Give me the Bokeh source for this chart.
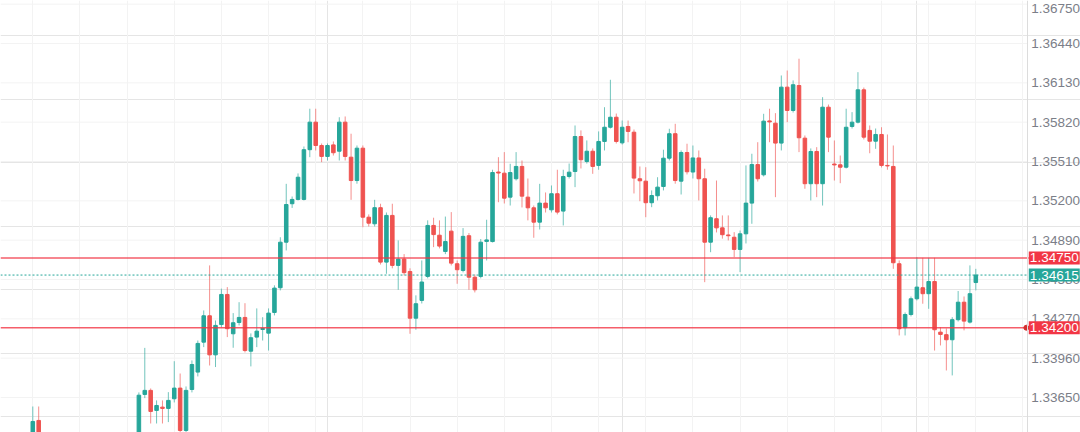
from bokeh.plotting import figure
from bokeh.models import Range1d, FixedTicker, Span, Grid, ColumnDataSource
from bokeh.core.properties import value
from bokeh.embed import file_html
from bokeh.resources import INLINE

# ---- data ----
opens = [1.33312, 1.33469, 1.33272, 1.3322, 1.3318, 1.3325, 1.3320, 1.3312, 1.3305, 1.3310,
         1.3302, 1.3296, 1.3304, 1.3311, 1.3307, 1.3315, 1.3322, 1.3318, 1.33290, 1.33674,
         1.33706, 1.33548, 1.33574, 1.33564, 1.33640, 1.33724, 1.33390, 1.33713, 1.33850, 1.34086,
         1.34294, 1.33986, 1.34225, 1.34462, 1.34152, 1.34241, 1.34281, 1.34015, 1.34126, 1.34186,
         1.34157, 1.34320, 1.34515, 1.34874, 1.35177, 1.35211, 1.35211, 1.35603, 1.35820, 1.35636,
         1.35550, 1.35641, 1.35591, 1.35820, 1.35544, 1.35360, 1.35615, 1.35071, 1.35019, 1.35146,
         1.34717, 1.35085, 1.34691, 1.34741, 1.34643, 1.34275, 1.34415, 1.34604, 1.35006, 1.34929,
         1.34801, 1.34961, 1.34704, 1.34651, 1.34925, 1.34598, 1.34604, 1.34880, 1.34879, 1.35427,
         1.35418, 1.35229, 1.35374, 1.35471, 1.35229, 1.35145, 1.35032, 1.35182, 1.35129, 1.35256,
         1.35119, 1.35392, 1.35431, 1.35707, 1.35510, 1.35591, 1.35479, 1.35668, 1.35780, 1.35859,
         1.35657, 1.35786, 1.35741, 1.35374, 1.35355, 1.35185, 1.35240, 1.35313, 1.35536, 1.35729,
         1.35355, 1.35581, 1.35427, 1.35538, 1.35374, 1.34874, 1.35059, 1.34987, 1.34931, 1.34913,
         1.34817, 1.34940, 1.35182, 1.35486, 1.35405, 1.35830, 1.35812, 1.35655, 1.36096, 1.35912,
         1.36109, 1.35694, 1.35335, 1.35589, 1.35335, 1.35938, 1.35490, 1.35484, 1.35465, 1.35786,
         1.35820, 1.36075, 1.35755, 1.35670, 1.35723, 1.35479, 1.35471, 1.34704, 1.34200, 1.34304,
         1.34428, 1.34515, 1.34468, 1.34564, 1.34165, 1.34145, 1.34105, 1.34263, 1.34401, 1.34244,
         1.34556]
highs = [1.33579, 1.33579, 1.3331, 1.3327, 1.3329, 1.3330, 1.3323, 1.3316, 1.3315, 1.3313,
         1.3306, 1.3308, 1.3315, 1.3314, 1.3319, 1.3326, 1.3325, 1.3331, 1.33690, 1.34041,
         1.33721, 1.33627, 1.33627, 1.33692, 1.33936, 1.33839, 1.33737, 1.33942, 1.34099, 1.34336,
         1.34691, 1.34257, 1.34508, 1.34520, 1.34315, 1.34401, 1.34393, 1.34155, 1.34352, 1.34283,
         1.34352, 1.34534, 1.34913, 1.35334, 1.35234, 1.35416, 1.35628, 1.35926, 1.35926, 1.35652,
         1.35652, 1.35668, 1.35859, 1.35865, 1.35729, 1.35636, 1.35636, 1.35093, 1.35208, 1.35177,
         1.35108, 1.35177, 1.34888, 1.34780, 1.34668, 1.34455, 1.34730, 1.35046, 1.35067, 1.35046,
         1.35076, 1.35111, 1.34730, 1.34985, 1.34946, 1.34620, 1.34899, 1.35051, 1.35445, 1.35544,
         1.35584, 1.35492, 1.35584, 1.35518, 1.35376, 1.35163, 1.35334, 1.35266, 1.35321, 1.35445,
         1.35445, 1.35494, 1.35794, 1.35755, 1.35676, 1.35613, 1.35747, 1.35938, 1.36154, 1.35888,
         1.35833, 1.35833, 1.35762, 1.35471, 1.35465, 1.35282, 1.35386, 1.35603, 1.35768, 1.35807,
         1.35597, 1.35650, 1.35636, 1.35597, 1.35453, 1.35085, 1.35360, 1.35085, 1.35085, 1.34953,
         1.34966, 1.35479, 1.35571, 1.35662, 1.35886, 1.35926, 1.35891, 1.36188, 1.36227, 1.36149,
         1.36320, 1.35715, 1.35613, 1.35623, 1.36017, 1.35959, 1.35676, 1.35557, 1.35926, 1.35899,
         1.36214, 1.36093, 1.35794, 1.35770, 1.35780, 1.35723, 1.35636, 1.34730, 1.34320, 1.34446,
         1.34756, 1.34751, 1.34751, 1.34751, 1.34204, 1.34194, 1.34283, 1.34489, 1.34446, 1.34691,
         1.34664]
lows = [1.33233, 1.33193, 1.3318, 1.3313, 1.3315, 1.3316, 1.3307, 1.3299, 1.3301, 1.3296,
        1.3290, 1.3293, 1.3300, 1.3302, 1.3304, 1.3311, 1.3313, 1.3315, 1.33260, 1.33645,
        1.33445, 1.33445, 1.33445, 1.33456, 1.33611, 1.33367, 1.33360, 1.33690, 1.33816, 1.34047,
        1.33902, 1.33890, 1.34202, 1.34126, 1.34042, 1.34218, 1.34005, 1.33895, 1.34047, 1.34099,
        1.34020, 1.34297, 1.34494, 1.34809, 1.35144, 1.35203, 1.35203, 1.35544, 1.35597, 1.35505,
        1.35518, 1.35557, 1.35518, 1.35518, 1.35208, 1.35335, 1.34992, 1.34998, 1.34998, 1.34698,
        1.34625, 1.34668, 1.34499, 1.34612, 1.34152, 1.34184, 1.34391, 1.34589, 1.34835, 1.34825,
        1.34780, 1.34691, 1.34546, 1.34636, 1.34499, 1.34478, 1.34589, 1.34730, 1.34872, 1.35189,
        1.35179, 1.35163, 1.35360, 1.35148, 1.35046, 1.34909, 1.34974, 1.35108, 1.35108, 1.35093,
        1.35006, 1.35376, 1.35308, 1.35455, 1.35494, 1.35413, 1.35445, 1.35597, 1.35770, 1.35652,
        1.35644, 1.35662, 1.35258, 1.35197, 1.35071, 1.35150, 1.35203, 1.35282, 1.35518, 1.35335,
        1.35250, 1.35408, 1.35376, 1.35203, 1.34559, 1.34795, 1.34951, 1.34902, 1.34888, 1.34756,
        1.34638, 1.34864, 1.35019, 1.35352, 1.35392, 1.35662, 1.35229, 1.35597, 1.35820, 1.35896,
        1.35584, 1.35295, 1.35203, 1.35229, 1.35163, 1.35584, 1.35360, 1.35339, 1.35455, 1.35770,
        1.35810, 1.35684, 1.35575, 1.35610, 1.35463, 1.35445, 1.34664, 1.34139, 1.34139, 1.34289,
        1.34415, 1.34389, 1.34349, 1.34020, 1.34060, 1.33863, 1.33824, 1.34249, 1.34179, 1.34233,
        1.34494]
closes = [1.33461, 1.33272, 1.3322, 1.3318, 1.3325, 1.3320, 1.3312, 1.3305, 1.3310, 1.3302,
          1.3296, 1.3304, 1.3311, 1.3307, 1.3315, 1.3322, 1.3318, 1.3326, 1.33668, 1.33706,
          1.33540, 1.33587, 1.33564, 1.33627, 1.33724, 1.33390, 1.33706, 1.33910, 1.34076, 1.34294,
          1.33986, 1.34218, 1.34462, 1.34192, 1.34239, 1.34281, 1.34020, 1.34121, 1.34173, 1.34194,
          1.34315, 1.34512, 1.34874, 1.35171, 1.35211, 1.35386, 1.35603, 1.35820, 1.35636, 1.35550,
          1.35636, 1.35579, 1.35820, 1.35550, 1.35360, 1.35615, 1.35071, 1.35024, 1.35146, 1.34717,
          1.35085, 1.34691, 1.34741, 1.34634, 1.34275, 1.34389, 1.34560, 1.35006, 1.34934, 1.34843,
          1.34879, 1.34709, 1.34657, 1.34920, 1.34598, 1.34499, 1.34874, 1.34892, 1.35423, 1.35419,
          1.35221, 1.35423, 1.35471, 1.35237, 1.35145, 1.35032, 1.35182, 1.35145, 1.35256, 1.35111,
          1.35392, 1.35426, 1.35707, 1.35524, 1.35591, 1.35471, 1.35668, 1.35780, 1.35859, 1.35668,
          1.35780, 1.35747, 1.35379, 1.35358, 1.35185, 1.35242, 1.35308, 1.35536, 1.35729, 1.35360,
          1.35581, 1.35429, 1.35538, 1.35374, 1.34874, 1.35067, 1.34987, 1.34933, 1.34925, 1.34817,
          1.34940, 1.35182, 1.35486, 1.35374, 1.35828, 1.35822, 1.35655, 1.36096, 1.35912, 1.36115,
          1.35697, 1.35335, 1.35589, 1.35335, 1.35938, 1.35702, 1.35483, 1.35465, 1.35780, 1.35820,
          1.36075, 1.35702, 1.35670, 1.35723, 1.35479, 1.35475, 1.34712, 1.34192, 1.34304, 1.34428,
          1.34520, 1.34468, 1.34564, 1.34184, 1.34147, 1.34105, 1.34263, 1.34401, 1.34252, 1.34468,
          1.34615]

y_ticks = [1.33650, 1.33960, 1.34270, 1.34580, 1.34890, 1.35200, 1.35510,
           1.35820, 1.36130, 1.36440, 1.36750]
resistance = 1.34750
support = 1.34200
last_price = closes[-1]

# ---- styling / layout ----
GREEN = "#26a69a"
RED = "#ef5350"
LINE_RED = "#f23645"
FONT = "Liberation Sans"
X_LO, X_HI = -5.48, 177.76          # whole canvas width
AXIS_X = 168.77                     # price-scale edge
Y_LO, Y_HI = 1.33374, 1.36779
BADGE_CX, BADGE_W = 173.31, 8.65
BADGE_L = BADGE_CX - BADGE_W / 2

n = len(opens)
idx = list(range(n))
colors = [GREEN if c >= o else RED for o, c in zip(opens, closes)]
src = ColumnDataSource(dict(
    x=idx,
    top=[max(o, c) for o, c in zip(opens, closes)],
    bottom=[min(o, c) for o, c in zip(opens, closes)],
    high=highs, low=lows, color=colors))

p = figure(frame_width=1080, frame_height=432,
           x_range=Range1d(X_LO, X_HI), y_range=Range1d(Y_LO, Y_HI),
           x_axis_location=None, y_axis_location=None,
           output_backend="svg", toolbar_location=None,
           min_border_left=0, min_border_right=0, min_border_top=0, min_border_bottom=0,
           outline_line_color=None, background_fill_color="white",
           border_fill_color="white")

# grid
p.add_layout(Grid(dimension=0, ticker=FixedTicker(ticks=list(range(0, 169, 8))),
                  grid_line_color="#f3f3f3"))
p.segment(x0=[X_LO] * len(y_ticks), y0=y_ticks, x1=[AXIS_X] * len(y_ticks), y1=y_ticks,
          line_color="#f3f3f3", line_width=1)

# price scale (right); the top label is nudged down so it stays inside the page
tick_src = ColumnDataSource(dict(
    x=[AXIS_X + 0.62] * len(y_ticks), y=y_ticks,
    text=[f"{t:.5f}" for t in y_ticks],
    dy=[4 if t == max(y_ticks) else 0 for t in y_ticks]))
p.add_layout(Span(location=AXIS_X, dimension="height", line_color="#dcdcdc", line_width=1))
p.text(x="x", y="y", text="text", y_offset="dy", source=tick_src,
       text_font=value(FONT), text_font_size="13.5px", text_color="#7b7e88",
       text_baseline="middle", text_align="left")

# candles
p.segment(x0="x", y0="high", x1="x", y1="low", line_color="color",
          line_width=1, line_alpha=0.65, source=src)
p.vbar(x="x", width=0.6, top="top", bottom="bottom", fill_color="color",
       line_color="color", line_width=1, source=src)

# levels (end at the badges)
p.segment(x0=[X_LO, X_LO], y0=[resistance, support], x1=[BADGE_L, BADGE_L],
          y1=[resistance, support], line_color=LINE_RED, line_width=1.5, line_alpha=0.8)
p.segment(x0=[X_LO], y0=[last_price], x1=[AXIS_X], y1=[last_price], line_color=GREEN,
          line_width=1, line_dash="2 2")
p.scatter(x=[AXIS_X - 0.2], y=[support], size=5, color="#d32f2f")

# price badges
levels = [resistance, last_price, support]
badge_colors = [LINE_RED, GREEN, LINE_RED]
p.rect(x=[BADGE_CX] * 3, y=levels, width=BADGE_W, height=13, height_units="screen",
       fill_color=badge_colors, line_color=None)
p.text(x=[BADGE_CX] * 3, y=levels, text=[f"{v:.5f}" for v in levels],
       text_font=value(FONT), text_font_size="13.5px", text_color="white",
       text_baseline="middle", text_align="center")

open("out.html", "w").write(file_html(p, INLINE))
